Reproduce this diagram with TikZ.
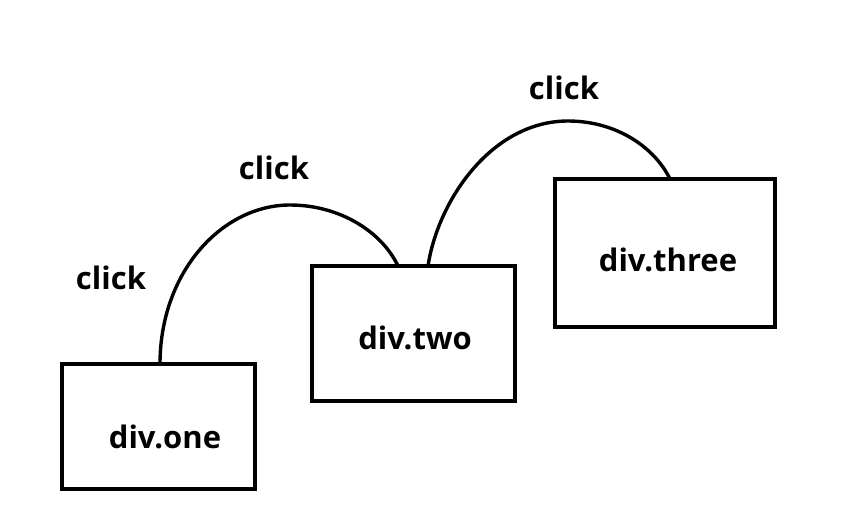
\documentclass[tikz,border=0pt]{standalone}
\usepackage{fontspec}
\setmainfont{Open Sans}[BoldFont={Open Sans Bold}]
\begin{document}
\begin{tikzpicture}[x=1pt,y=-1pt,
  divbox/.style={draw=black,line width=4pt,inner sep=0pt,outer sep=0pt,anchor=north west},
  lbl/.style={font=\fontsize{31}{34}\selectfont\bfseries,inner sep=0pt},
  arc/.style={draw=black,line width=3.4pt}]
\useasboundingbox (0,0) rectangle (846,509);
\node[divbox,minimum width=193pt,minimum height=125pt] (one) at (62,364) {};
\node[divbox,minimum width=203pt,minimum height=135pt] (two) at (312,266) {};
\node[divbox,minimum width=220pt,minimum height=148pt] (three) at (555,179) {};
\node[lbl] (tone) at (165,437) {div.one};
\node[lbl] (ttwo) at (415,338) {div.two};
\node[lbl] (tthree) at (668,260) {div.three};
\node[lbl] (c1) at (111,278) {click};
\node[lbl] (c2) at (274,168) {click};
\node[lbl] (c3) at (564,88) {click};
\coordinate (a1) at ([xshift=98pt]one.north west);
\coordinate (b1) at ([xshift=86pt]two.north west);
\coordinate (a2) at ([xshift=116pt]two.north west);
\coordinate (b2) at ([xshift=115pt]three.north west);
\draw[arc] (a1) .. controls (160,272) and (222,205) .. (290,205)
  .. controls (340,205) and (382,232) .. (b1);
\draw[arc] (a2) .. controls (438,200) and (492,121) .. (568,121)
  .. controls (617,121) and (655,148) .. (b2);
\end{tikzpicture}
\end{document}
